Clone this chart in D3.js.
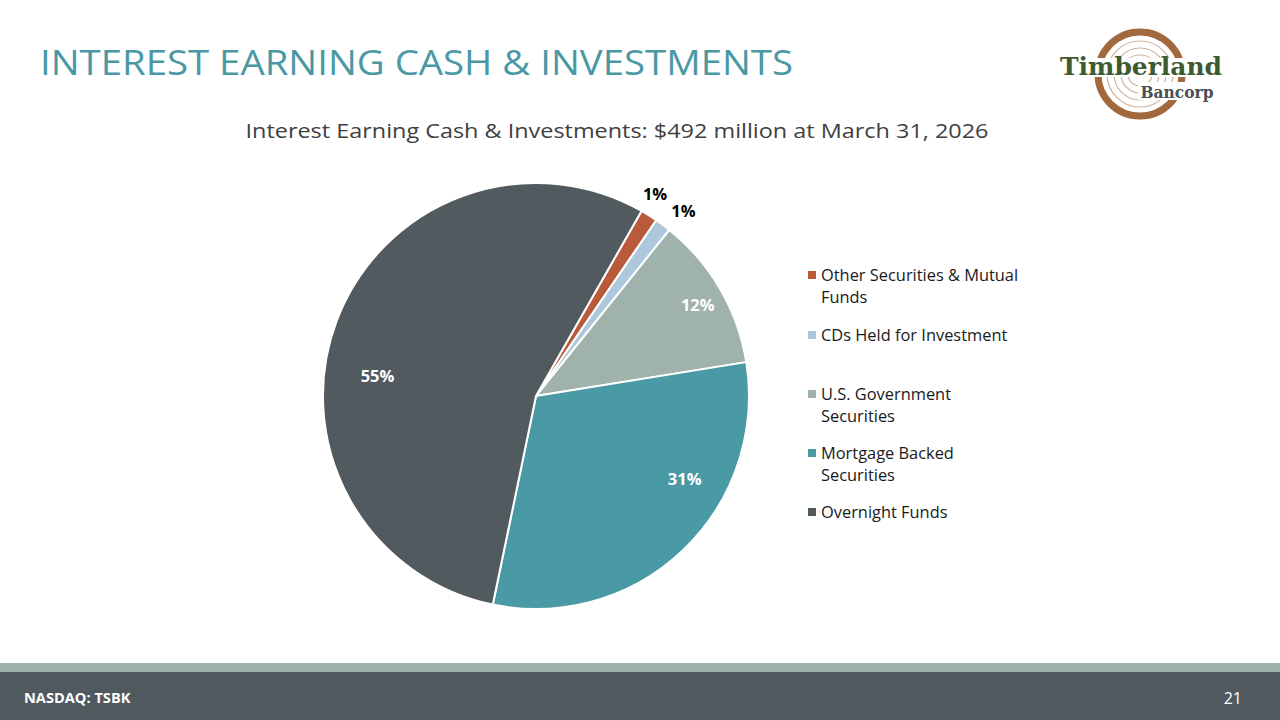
<!DOCTYPE html>
<html>
<head>
<meta charset="utf-8">
<script src="https://cdn.jsdelivr.net/npm/d3@7"></script>
<style>
  body { margin: 0; background: #fff; }
  svg { display: block; }
</style>
</head>
<body>
<svg id="slide" width="1280" height="720"></svg>
<script>
// values in $ millions
var categories = ["Other Securities & Mutual Funds", "CDs Held for Investment", "U.S. Government Securities", "Mortgage Backed Securities", "Overnight Funds"];
var values = [6.4, 6.0, 57.5, 151.5, 270.6];
var pctLabels = ["1%", "1%", "12%", "31%", "55%"];
var legendLines = [["Other Securities & Mutual", "Funds"], ["CDs Held for Investment"], ["U.S. Government", "Securities"], ["Mortgage Backed", "Securities"], ["Overnight Funds"]];

var colors = ["#b95b3b", "#adc8dd", "#9fb3ac", "#4a9aa6", "#515a5e"];
// label placement: [angle shift in deg from centroid, radius fraction, inside?]
var labelPos = [[-1.5, 1.1, false], [2, 1.11, false], [1, 0.87, true], [-17, 0.8, true], [-13.5, 0.75, true]];

var svg = d3.select("#slide");
var font = "'Open Sans', sans-serif";

svg.append("text")
    .attr("x", 40).attr("y", 75)
    .attr("fill", "#4a98a4")
    .style("font-family", font).style("font-size", "34px")
    .attr("textLength", 753).attr("lengthAdjust", "spacingAndGlyphs")
    .text("INTEREST EARNING CASH & INVESTMENTS");

svg.append("text")
    .attr("x", 617).attr("y", 138)
    .attr("text-anchor", "middle")
    .attr("fill", "#404040")
    .style("font-family", font).style("font-size", "20px")
    .attr("textLength", 743).attr("lengthAdjust", "spacingAndGlyphs")
    .text("Interest Earning Cash & Investments: $492 million at March 31, 2026");

// logo
var logo = svg.append("g").attr("transform", "translate(1140,74)");
logo.append("circle").attr("r", 42).attr("fill", "none").attr("stroke", "#a2693f").attr("stroke-width", 7);
[33, 26, 19, 12].forEach(function(r) {
  logo.append("circle").attr("r", r).attr("fill", "none").attr("stroke", "#cfb29a").attr("stroke-width", 1.2);
});
logo.append("rect").attr("x", -82).attr("y", -16).attr("width", 165).attr("height", 19).attr("fill", "#fff");
logo.append("rect").attr("x", -2).attr("y", 8).attr("width", 78).attr("height", 18).attr("fill", "#fff");
logo.append("text").attr("x", 1).attr("y", 1).attr("text-anchor", "middle")
    .attr("fill", "#3d5a31").style("font-family", "'DejaVu Serif', serif").style("font-weight", "bold").style("font-size", "24px")
    .attr("textLength", 162).attr("lengthAdjust", "spacingAndGlyphs").text("Timberland");
logo.append("text").attr("x", 37).attr("y", 24).attr("text-anchor", "middle")
    .attr("fill", "#4a4f52").style("font-family", "'DejaVu Serif', serif").style("font-weight", "bold").style("font-size", "16px")
    .attr("textLength", 73).attr("lengthAdjust", "spacingAndGlyphs").text("Bancorp");

// pie
var cx = 536, cy = 396, R = 213;
var pie = d3.pie().sort(null).value(function(d) { return d; })
    .startAngle(29.7 * Math.PI / 180).endAngle(389.7 * Math.PI / 180);
var arc = d3.arc().innerRadius(0).outerRadius(R);
var arcs = pie(values);

var g = svg.append("g").attr("transform", "translate(" + cx + "," + cy + ")");
g.selectAll(".slice")
    .data(arcs)
  .enter().append("path")
    .attr("class", "slice")
    .attr("d", arc)
    .attr("fill", function(d, i) { return colors[i]; })
    .attr("stroke", "#fff").attr("stroke-width", 2).attr("stroke-linejoin", "round");

g.selectAll(".lbl")
    .data(arcs)
  .enter().append("text")
    .attr("class", "lbl")
    .attr("transform", function(d, i) {
      var a = (d.startAngle + d.endAngle) / 2 + labelPos[i][0] * Math.PI / 180;
      var r = R * labelPos[i][1];
      return "translate(" + (r * Math.sin(a)) + "," + (-r * Math.cos(a)) + ")";
    })
    .attr("text-anchor", "middle").attr("dy", "0.35em")
    .attr("fill", function(d, i) { return labelPos[i][2] ? "#fff" : "#000"; })
    .style("font-family", font).style("font-weight", "bold").style("font-size", "16.5px")
    .text(function(d, i) { return pctLabels[i]; });

// legend
var legY = [275, 335, 394, 453, 512];
var leg = svg.append("g").attr("transform", "translate(808,0)");
var items = leg.selectAll(".leg")
    .data(categories)
  .enter().append("g")
    .attr("class", "leg")
    .attr("transform", function(d, i) { return "translate(0," + legY[i] + ")"; });
items.append("rect").attr("x", 0).attr("y", -4).attr("width", 8).attr("height", 8)
    .attr("fill", function(d, i) { return colors[i]; });
items.append("text")
    .attr("x", 13).attr("y", 6)
    .attr("fill", "#1a1a1a")
    .style("font-family", font).style("font-size", "16.4px")
    .selectAll("tspan")
    .data(function(d, i) { return legendLines[i]; })
  .enter().append("tspan")
    .attr("x", 13).attr("dy", function(d, j) { return j === 0 ? 0 : 22; })
    .text(function(d) { return d; });

// footer
svg.append("rect").attr("x", 0).attr("y", 663).attr("width", 1280).attr("height", 9).attr("fill", "#9db2aa");
svg.append("rect").attr("x", 0).attr("y", 672).attr("width", 1280).attr("height", 48).attr("fill", "#505a5e");
svg.append("text").attr("x", 24).attr("y", 703).attr("fill", "#fff")
    .style("font-family", font).style("font-weight", "bold").style("font-size", "14.6px").text("NASDAQ: TSBK");
svg.append("text").attr("x", 1242).attr("y", 704).attr("text-anchor", "end").attr("fill", "#fff")
    .style("font-family", font).style("font-size", "16px").text("21");
</script>
</body>
</html>
